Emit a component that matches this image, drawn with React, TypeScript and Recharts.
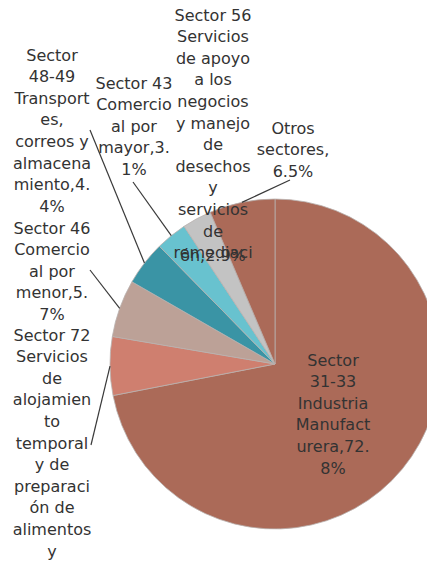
import React from "react";
import { PieChart, Pie, Cell } from "recharts";

const categories = [
  "Sector 31-33 Industria Manufacturera",
  "Sector 72 Servicios de alojamiento temporal y de preparación de alimentos y bebidas",
  "Sector 46 Comercio al por menor",
  "Sector 48-49 Transportes, correos y almacenamiento",
  "Sector 43 Comercio al por mayor",
  "Sector 56 Servicios de apoyo a los negocios y manejo de desechos y servicios de remediación",
  "Otros sectores"
];

const shares = [72.8, 5.8, 5.7, 4.4, 3.1, 2.9, 6.5];

// wrapped the way the original labels are
const labelLines = [
  ["Sector", "31-33", "Industria", "Manufact", "urera,72.", "8%"],
  ["Sector 72", "Servicios", "de", "alojamien", "to", "temporal", "y de", "preparaci", "ón de", "alimentos", "y"],
  ["Sector 46", "Comercio", "al por", "menor,5.", "7%"],
  ["Sector", "48-49", "Transport", "es,", "correos y", "almacena", "miento,4.", "4%"],
  ["Sector 43", "Comercio", "al por", "mayor,3.", "1%"],
  ["Sector 56", "Servicios", "de apoyo", "a los", "negocios", "y manejo", "de", "desechos", "y", "servicios", "de", "remediaci", "ón,2.9%"],
  ["Otros", "sectores,", "6.5%"]
];

const colors = ["#AB6A58", "#CF7F6F", "#BCA197", "#3A94A5", "#68C2CF", "#C3C3C3", "#AB6A58"];

// label block placement (text centre x, first line y) and leader end point
const labelLayout = [
  { x: 333, y: 360 },
  { x: 52, y: 335, lx: 91, ly: 445 },
  { x: 52, y: 228, lx: 90, ly: 270 },
  { x: 52, y: 55, lx: 90, ly: 130 },
  { x: 134, y: 83, lx: 133, ly: 182 },
  { x: 213, y: 15, overlapLast: true },
  { x: 293, y: 128, lx: 290, ly: 180 }
];

const data = categories.map((name, i) => ({ name, value: shares[i] }));

const RADIAN = Math.PI / 180;
const LINE_H = 21.6;

const renderLabel = (props: any) => {
  const { cx, cy, midAngle, outerRadius, index } = props;
  const lay: any = labelLayout[index];
  const lines = labelLines[index];
  const ex = cx + outerRadius * Math.cos(-midAngle * RADIAN);
  const ey = cy + outerRadius * Math.sin(-midAngle * RADIAN);
  return (
    <g key={"lbl" + index}>
      {lay.lx !== undefined && (
        <line x1={ex} y1={ey} x2={lay.lx} y2={lay.ly} stroke="#3a3a3a" strokeWidth={1.2} />
      )}
      {lines.map((t, j) => {
        let k = j;
        if (lay.overlapLast && j === lines.length - 1) k = j - 0.85;
        return (
          <text
            key={j}
            x={lay.x}
            y={lay.y + k * LINE_H}
            textAnchor="middle"
            dominantBaseline="central"
            fontFamily="DejaVu Sans, Verdana, sans-serif"
            fontSize={16}
            fill="#333"
          >
            {t}
          </text>
        );
      })}
    </g>
  );
};

export default function App() {
  return (
    <div
      style={{
        position: "absolute",
        left: 0,
        top: 0,
        width: 427,
        height: 562,
        overflow: "hidden",
        background: "#fff"
      }}
    >
      <PieChart width={427} height={562}>
        <Pie
          data={data}
          dataKey="value"
          nameKey="name"
          cx={270}
          cy={359}
          outerRadius={165}
          startAngle={90}
          endAngle={-270}
          stroke="#b9b1ae"
          strokeWidth={0.8}
          label={renderLabel}
          labelLine={false}
          isAnimationActive={false}
        >
          {data.map((d, i) => (
            <Cell key={d.name} fill={colors[i]} />
          ))}
        </Pie>
      </PieChart>
    </div>
  );
}
